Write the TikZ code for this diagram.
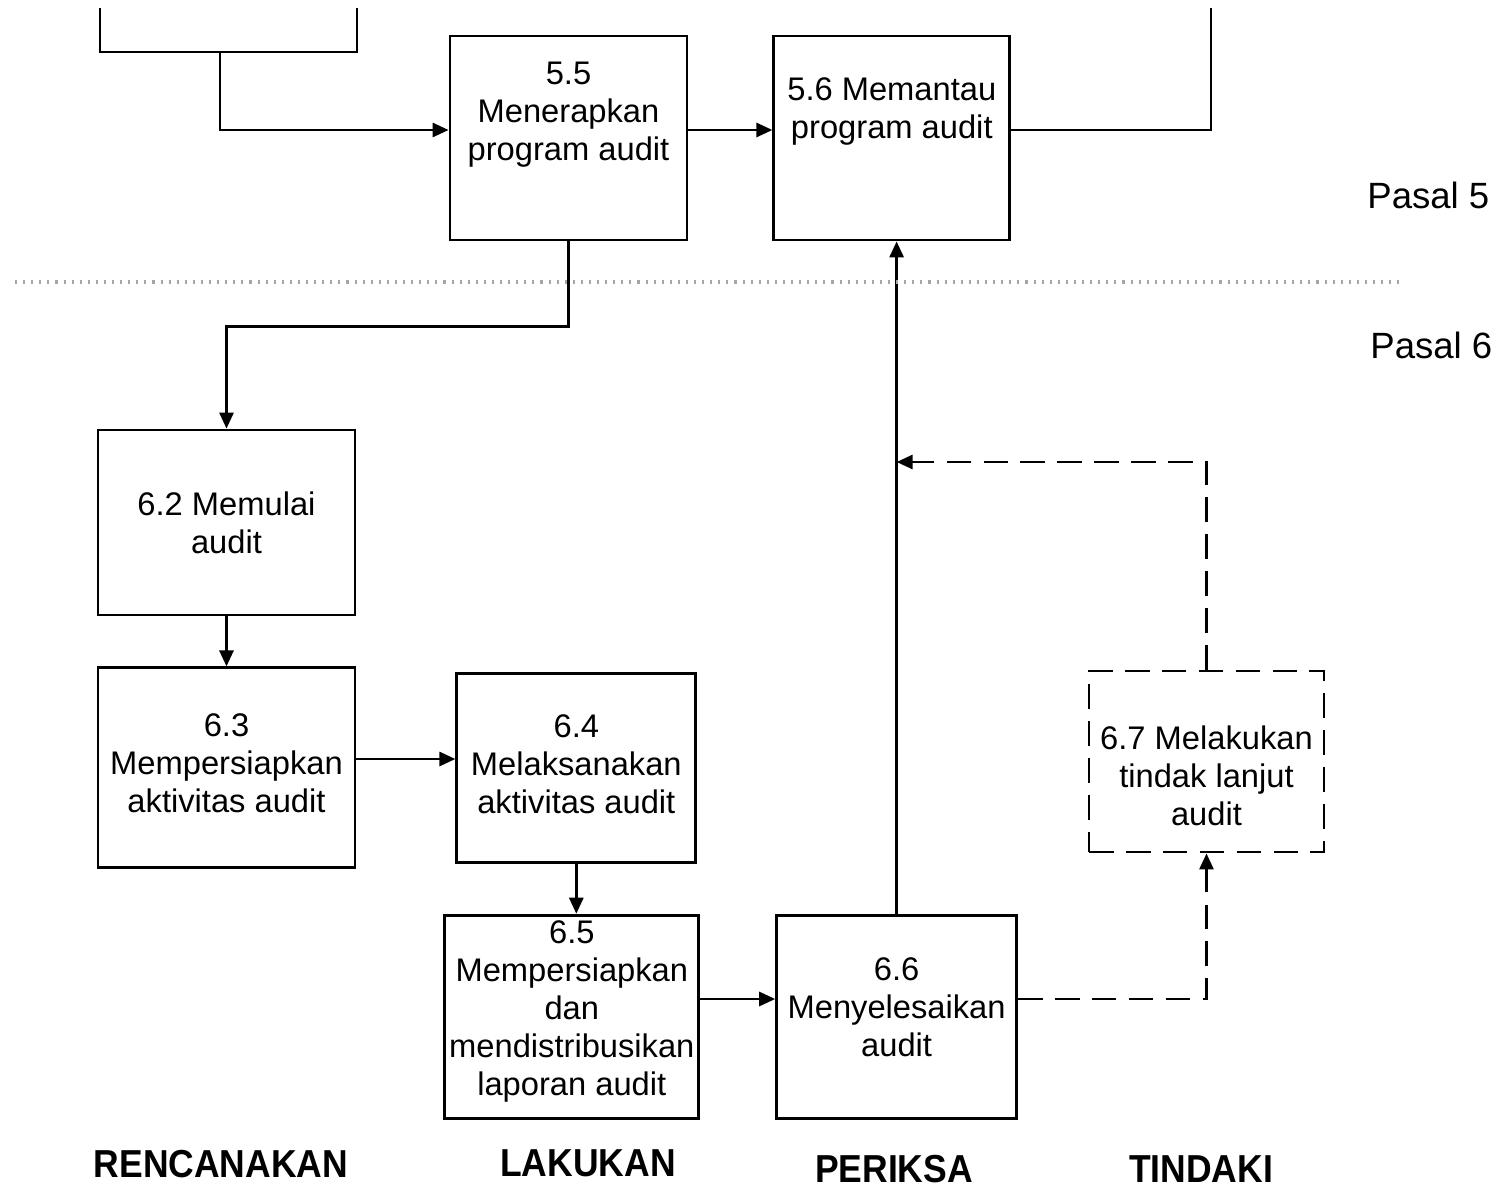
\documentclass[tikz,border=0pt]{standalone}
\usepackage{fontspec}
\setmainfont{Liberation Sans}
\newfontfamily\narrowfont[FakeStretch=0.91]{Liberation Sans}
\usetikzlibrary{positioning,arrows.meta}

\tikzset{
	boxtext/.style={align=center, font=\fontsize{9.3}{10.8}\selectfont},
	proc/.style={draw, line width=0.8pt, inner sep=0pt, boxtext},
	opt/.style={proc, dash pattern=on 7pt off 3.5pt},
	flow/.style={line width=0.8pt, -{Triangle[length=1.6mm,width=1.4mm]}},
	dflow/.style={flow, dash pattern=on 7pt off 3.5pt},
	sep/.style={gray!70, line width=1.2pt, dash pattern=on 0.6pt off 1.7pt},
	phase/.style={inner sep=0pt, font=\narrowfont\bfseries\fontsize{11.1}{13}\selectfont},
	pasal/.style={anchor=east, inner sep=0pt, font=\fontsize{10.4}{12}\selectfont},
}

\begin{document}
\begin{tikzpicture}
	\useasboundingbox (0,0) rectangle (15.06,-11.86);
	
	\node[proc, minimum width=2.37cm, minimum height=2.04cm, label={[boxtext, yshift=2.3mm]center:{5.5\\Menerapkan\\program audit}}] (p55) at (5.685,-1.38) {};
	\node[proc, minimum width=2.36cm, minimum height=2.04cm, right=0.84 of p55, label={[boxtext, yshift=2.7mm]center:{5.6 Memantau\\program audit}}] (p56) {};
	\node[proc, minimum width=2.57cm, minimum height=1.85cm] (p62) at (2.265,-5.225) {6.2 Memulai\\audit};
	\node[proc, minimum width=2.57cm, minimum height=2.0cm, below=0.5 of p62, label={[boxtext, yshift=0.5mm]center:{6.3\\Mempersiapkan\\aktivitas audit}}] (p63) {};
	\node[proc, minimum width=2.39cm, minimum height=1.89cm, right=0.99 of p63, label={[boxtext, yshift=0.4mm]center:{6.4\\Melaksanakan\\aktivitas audit}}] (p64) {};
	\node[proc, minimum width=2.54cm, minimum height=2.03cm, below=0.5 of p64, xshift=-0.45mm, label={[boxtext, yshift=0.5mm]center:{6.5\\Mempersiapkan\\dan\\mendistribusikan\\laporan audit}}] (p65) {};
	\node[proc, minimum width=2.40cm, minimum height=2.03cm, right=0.75 of p65, label={[boxtext, yshift=0.9mm]center:{6.6\\Menyelesaikan\\audit}}] (p66) {};
	\node[opt, minimum width=2.35cm, minimum height=1.81cm, label={[boxtext, yshift=-1.4mm]center:{6.7 Melakukan\\tindak lanjut\\audit}}] (p67) at (12.065,-7.615) {};
	
	\coordinate (toprow) at (0,-1.30);
	\coordinate (midrow) at (0,-7.59);
	\coordinate (botrow) at (0,-9.99);
	\coordinate (fbrow) at (0,-4.62);
	\coordinate (c54) at (2.20,-0.52);
	\coordinate (c57) at (12.11,-0.08);
	
	\draw[line width=0.8pt] (1.00,-0.08) |- (3.57,-0.52) -- (3.57,-0.08);
	\draw[flow] (c54) |- (p55.west |- toprow);
	\draw[flow] (p55.east |- toprow) -- (p56.west |- toprow);
	\draw[line width=0.8pt] (p56.east |- toprow) -| (c57);
	\draw[flow] (p55.south) -- ++(0,-0.85) -| (p62.north);
	\draw[flow] (p62) -- (p63);
	\draw[flow] (p63.east |- midrow) -- (p64.west |- midrow);
	\draw[flow] (p64) -- (p64 |- p65.north);
	\draw[flow] (p65.east |- botrow) -- (p66.west |- botrow);
	\draw[flow] (p66.north) -- (p66.north |- p56.south);
	\draw[dflow] (p66.east |- botrow) -| (p67.south);
	\draw[dflow] (p67.north) |- (p66.north |- fbrow);
	
	\draw[sep] (0.15,-2.82) -- (14.05,-2.82);
	
	\node[pasal] (pas5) at (14.90,-1.95) {Pasal 5};
	\node[pasal] (pas6) at (14.93,-3.45) {Pasal 6};
	
	\node[phase] (rencana) at (2.21,-11.64) {RENCANAKAN};
	\node[phase] (lakukan) at (5.88,-11.63) {LAKUKAN};
	\node[phase] (periksa) at (8.94,-11.69) {PERIKSA};
	\node[phase] (tindaki) at (12.01,-11.69) {TINDAKI};
\end{tikzpicture}
\end{document}
